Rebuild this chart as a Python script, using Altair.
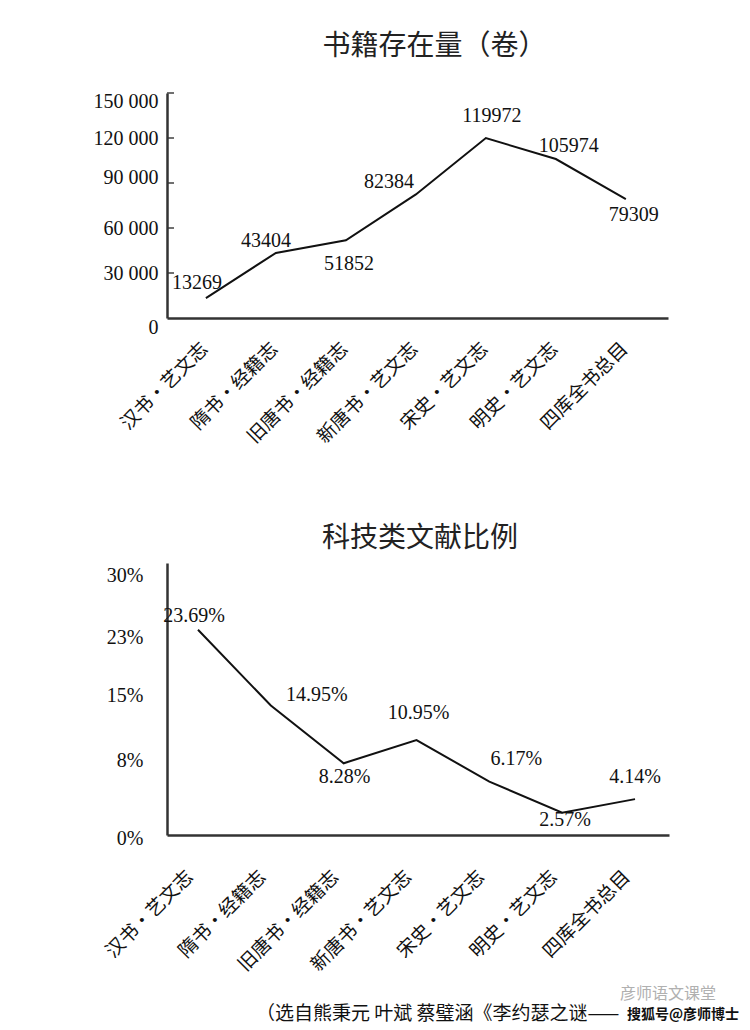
import altair as alt
import pandas as pd

categories = ["汉书·艺文志", "隋书·经籍志", "旧唐书·经籍志", "新唐书·艺文志",
              "宋史·艺文志", "明史·艺文志", "四库全书总目"]
volumes = [13269, 43404, 51852, 82384, 119972, 105974, 79309]
ratios = [23.69, 14.95, 8.28, 10.95, 6.17, 2.57, 4.14]
volume_ticks = [0, 30000, 60000, 90000, 120000, 150000]
ratio_ticks = [0, 7.5, 15, 22.5, 30]
title1 = "书籍存在量（卷）"
title2 = "科技类文献比例"
caption = "（选自熊秉元 叶斌 蔡璧涵《李约瑟之谜——"
watermark = "彦师语文课堂"
overlay = "搜狐号@彦师博士"

# label placement (style only)
off1 = [(-9, -15), (-10, -12), (3, 24), (-27, -12), (6, -22), (13, -13), (8, 16)]
off2 = [(-4, -14), (46, -10), (1, 14), (2, -27), (27, -23), (3, 7), (0, -22)]

CJK = "Noto Sans CJK SC"
SERIF = "Liberation Serif"
INK = "#111111"
AXC = "#333333"

df1 = pd.DataFrame({"cat": categories, "v": volumes,
                    "label": [str(v) for v in volumes]})
df2 = pd.DataFrame({"cat": categories, "v": ratios,
                    "label": [f"{v:.2f}%" for v in ratios]})


def x_enc(pad, align, lab_pad, lab_off):
    return alt.X("cat:N", sort=categories, title=None,
                 scale=alt.Scale(type="point", padding=pad, align=align),
                 axis=alt.Axis(labelAngle=-45, labelAlign="right", labelBaseline="top",
                               labelFont=CJK, labelFontSize=19, labelColor=INK,
                               labelPadding=lab_pad, labelOffset=lab_off, ticks=False,
                               domainColor=AXC, domainWidth=2.5, grid=False,
                               labelOverlap=False))


# ---------- chart 1 ----------
y1 = alt.Y("v:Q", title=None,
           scale=alt.Scale(domain=[0, 150000], nice=False, zero=True),
           axis=alt.Axis(values=volume_ticks,
                         labelExpr="replace(format(datum.value, ','), ',', ' ')",
                         labelFont=SERIF, labelFontSize=20, labelColor=INK,
                         labelPadding=9, ticks=False, domainColor=AXC, domainWidth=2.5,
                         grid=False, labelFlush=False, labelOverlap=False,
                         labelOffset={"condition": [
                             {"test": "datum.value == 150000", "value": 8},
                             {"test": "datum.value == 90000", "value": -6},
                             {"test": "datum.value == 0", "value": 9}], "value": 0}))
base1 = alt.Chart(df1).encode(x=x_enc(0.579, 0.48, 21, -8), y=y1)
layers1 = [base1.mark_line(color=INK, strokeWidth=2)]
layers1.append(
    alt.Chart(pd.DataFrame({"v": volume_ticks[1:]}))
    .mark_tick(orient="horizontal", size=7, thickness=2, color=AXC)
    .encode(x=alt.value(3.5), y=alt.Y("v:Q"))
)
for i, (dx, dy) in enumerate(off1):
    layers1.append(
        base1.transform_filter(alt.datum.cat == categories[i])
        .mark_text(dx=dx, dy=dy, font=SERIF, fontSize=20, color=INK)
        .encode(text="label:N")
    )
c1 = alt.layer(*layers1).properties(
    width=501, height=225,
    title=alt.Title(title1, font=CJK, fontSize=28, fontWeight="normal", color="#222222",
                    anchor="middle", frame="group", offset=30, dx=17),
)

# ---------- chart 2 ----------
y2 = alt.Y("v:Q", title=None,
           scale=alt.Scale(domain=[0, 31.4], nice=False, zero=True),
           axis=alt.Axis(values=ratio_ticks,
                         labelExpr="round(datum.value) + '%'",
                         labelFont=SERIF, labelFontSize=20, labelColor=INK,
                         labelPadding=24, ticks=False, domainColor=AXC, domainWidth=2.5,
                         grid=False, labelFlush=False, labelOverlap=False,
                         labelOffset={"condition": [
                             {"test": "datum.value == 22.5", "value": -3},
                             {"test": "datum.value == 15", "value": -10},
                             {"test": "datum.value == 7.5", "value": -10},
                             {"test": "datum.value == 0", "value": 3}], "value": 0}))
base2 = alt.Chart(df2).encode(x=x_enc(0.446, 0.477, 32, -15), y=y2)
layers2 = [base2.mark_line(color=INK, strokeWidth=2)]
for i, (dx, dy) in enumerate(off2):
    layers2.append(
        base2.transform_filter(alt.datum.cat == categories[i])
        .mark_text(dx=dx, dy=dy, font=SERIF, fontSize=20, color=INK)
        .encode(text="label:N")
    )
layers2.append(
    alt.Chart(pd.DataFrame({"t": [caption]}))
    .mark_text(align="left", baseline="middle", font=CJK, fontSize=19, color=INK)
    .encode(x=alt.value(89), y=alt.value(451), text="t:N")
)
layers2.append(
    alt.Chart(pd.DataFrame({"t": [watermark]}))
    .mark_text(align="left", baseline="middle", font=CJK, fontSize=16, color="#b0b0b0")
    .encode(x=alt.value(453), y=alt.value(431), text="t:N")
)
layers2.append(
    alt.Chart(pd.DataFrame({"t": [overlay]}))
    .mark_text(align="left", baseline="middle", font=CJK, fontSize=14, fontWeight="bold",
               color=INK)
    .encode(x=alt.value(460), y=alt.value(452), text="t:N")
)
c2 = alt.layer(*layers2).properties(
    width=502, height=272,
    title=alt.Title(title2, font=CJK, fontSize=28, fontWeight="normal", color="#222222",
                    anchor="middle", frame="group", offset=10, dx=2),
)

chart = (
    alt.vconcat(c1, c2, spacing=245, bounds="flush")
    .properties(padding={"left": 85, "top": 25, "right": 0, "bottom": 0}, background="white")
    .configure_view(stroke=None)
)

chart.save("out.html", embed_options={"renderer": "svg", "actions": False})
